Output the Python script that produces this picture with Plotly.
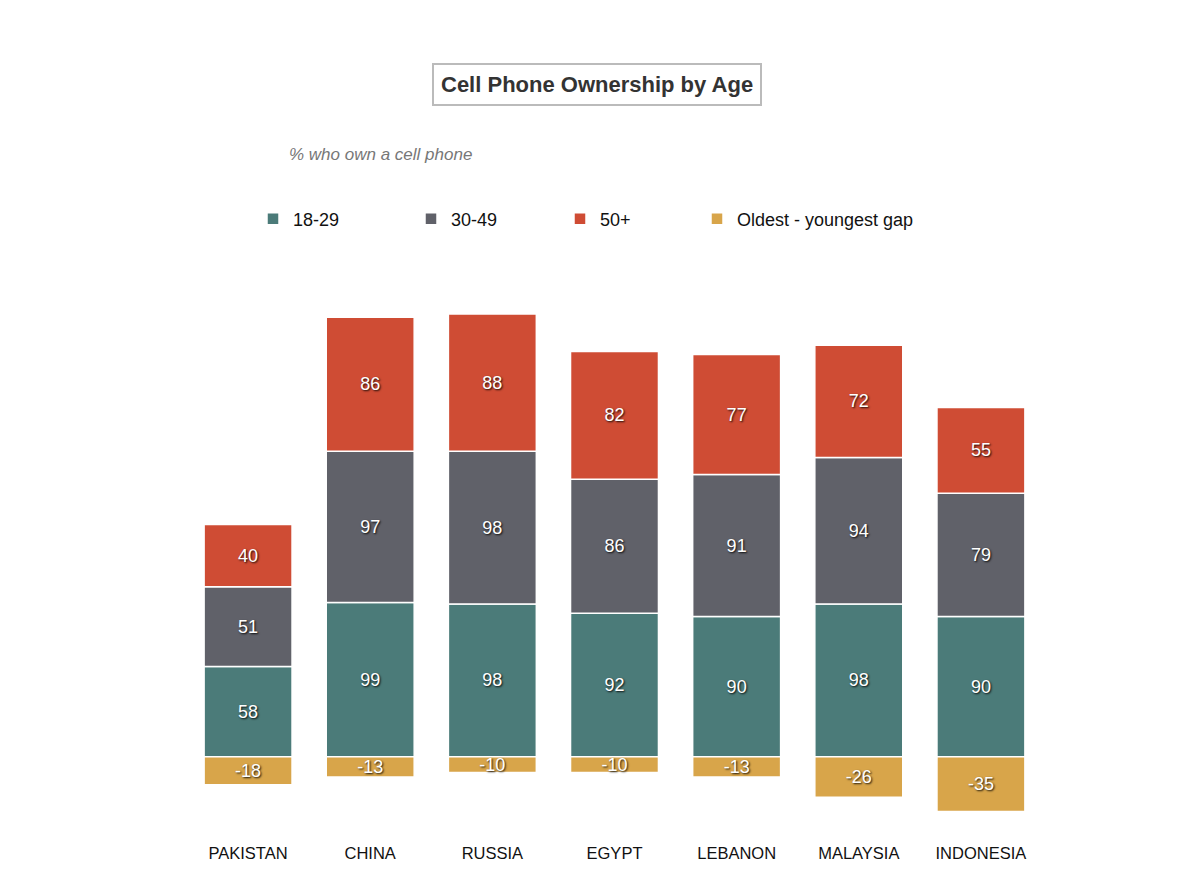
import plotly.graph_objects as go

countries = ["PAKISTAN", "CHINA", "RUSSIA", "EGYPT", "LEBANON", "MALAYSIA", "INDONESIA"]
age_18_29 = [58, 99, 98, 92, 90, 98, 90]
age_30_49 = [51, 97, 98, 86, 91, 94, 79]
age_50_plus = [40, 86, 88, 82, 77, 72, 55]
gap = [-18, -13, -10, -10, -13, -26, -35]

series_names = ["18-29", "30-49", "50+", "Oldest - youngest gap"]
series_values = [age_18_29, age_30_49, age_50_plus, gap]
series_colors = ["#4b7b79", "#606169", "#cf4c34", "#d8a54a"]
legend_marker_px = [273, 431, 580, 717]

W, H = 1200, 893
OFF = 8  # page body offset
L, R, T, B = 179, 166, 292, 60
pw = W - L - R
ph = H - T - B

fig = go.Figure()
legend_layout = {}
for i, (name, vals, color) in enumerate(zip(series_names, series_values, series_colors)):
    lg = "legend" if i == 0 else f"legend{i + 1}"
    fig.add_trace(go.Bar(
        x=countries, y=vals, name=name, legend=lg,
        marker=dict(color=color, line=dict(color="white", width=1.5)),
        text=[str(v) for v in vals], textposition="inside",
        insidetextanchor="middle",
        textfont=dict(color="white", size=18, family="Liberation Sans, Arial, sans-serif",
                      shadow="1px 1px 2px rgba(0,0,0,0.9)"),
        hoverinfo="x+y+name",
    ))
    legend_layout[lg] = dict(
        orientation="h",
        x=(legend_marker_px[i] - 20 - OFF - L) / pw, xref="paper", xanchor="left",
        y=1 - (219 - OFF) / H, yref="container", yanchor="middle",
        font=dict(size=18, color="#111"), itemwidth=30, bgcolor="rgba(0,0,0,0)",
    )

fig.update_layout(
    barmode="relative",
    bargap=0.28,
    width=W, height=H,
    plot_bgcolor="white", paper_bgcolor="white",
    margin=dict(l=L, r=R, t=T, b=B, autoexpand=False),
    font=dict(family="Liberation Sans, Arial, sans-serif", color="#111"),
    uniformtext=dict(minsize=18, mode="show"),
    showlegend=True,
    xaxis=dict(showline=False, showgrid=False, zeroline=False, ticks="",
               tickfont=dict(size=16.5, color="#111")),
    yaxis=dict(visible=False, range=[-54, 293], showgrid=False, zeroline=False),
    annotations=[
        dict(text="<b>Cell Phone Ownership by Age</b>", xref="paper", yref="paper",
             x=(597 - OFF - L) / pw, y=1 + (T - (84 - OFF)) / ph, xanchor="center", yanchor="middle",
             showarrow=False, font=dict(size=22, color="#333"),
             bordercolor="#bbbbbb", borderwidth=2, borderpad=7, bgcolor="white"),
        dict(text="<i>% who own a cell phone</i>", xref="paper", yref="paper",
             x=(287 - OFF - L) / pw, y=1 + (T - (155 - OFF)) / ph, xanchor="left", yanchor="middle",
             showarrow=False, font=dict(size=17, color="#777")),
    ],
    **legend_layout,
)

fig.write_html("out.html")
